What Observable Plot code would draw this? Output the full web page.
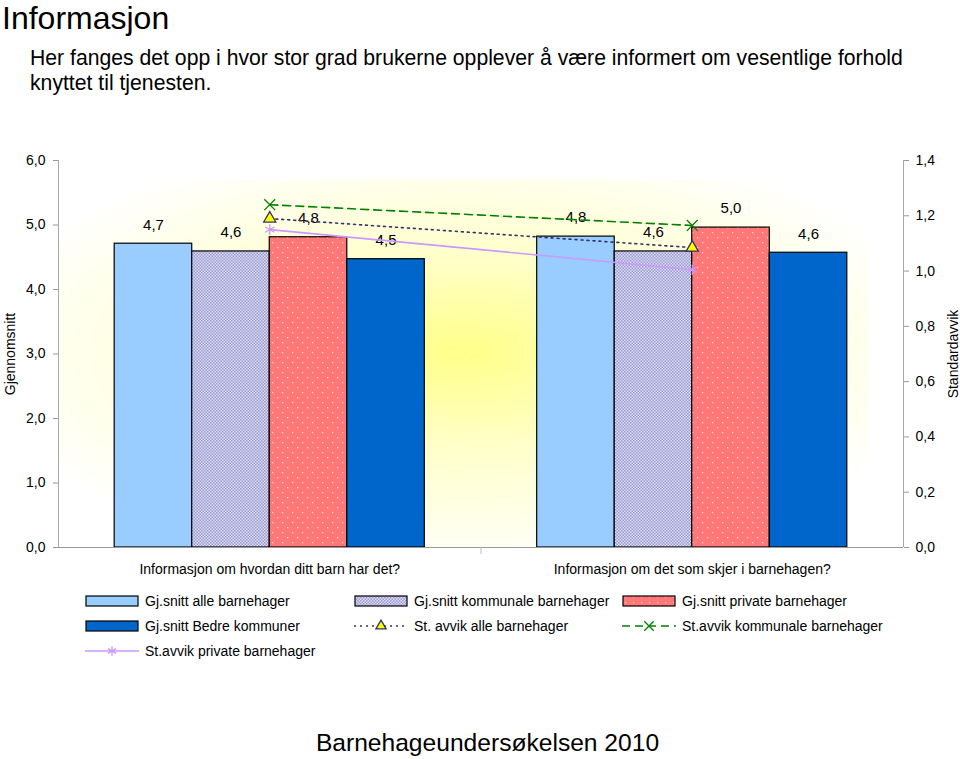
<!DOCTYPE html>
<html>
<head>
<meta charset="utf-8">
<script src="https://cdn.jsdelivr.net/npm/d3@7"></script>
<script src="https://cdn.jsdelivr.net/npm/@observablehq/plot@0.6"></script>
<style>
  body { margin: 0; background: #fff; font-family: "Liberation Sans", Arial, sans-serif; color: #000; }
  #page { position: relative; width: 960px; height: 759px; overflow: hidden; }
  #title { position: absolute; left: 2px; top: 0px; font-size: 32px; line-height: 36px; }
  #subtitle { position: absolute; left: 30px; top: 45px; font-size: 21.2px; line-height: 25px; }
  #chart { position: absolute; left: 0; top: 140px; }
  #legend { position: absolute; left: 0; top: 591px; width: 960px; font-size: 14px; }
  .li { position: absolute; display: flex; align-items: center; height: 20px; white-space: nowrap; }
  .li svg { margin-right: 6px; }
  #footer { position: absolute; left: 0; width: 975px; text-align: center; top: 729px; font-size: 24.6px; }
</style>
</head>
<body>
<div id="page">
  <div id="title">Informasjon</div>
  <div id="subtitle">Her fanges det opp i hvor stor grad brukerne opplever å være informert om vesentlige forhold<br>knyttet til tjenesten.</div>
  <div id="chart"></div>
  <div id="legend"></div>
  <div id="footer">Barnehageundersøkelsen 2010</div>
</div>
<script>
// ---- Data ----
const categories = ["Informasjon om hvordan ditt barn har det?", "Informasjon om det som skjer i barnehagen?"];
const barSeries = ["Gj.snitt alle barnehager", "Gj.snitt kommunale barnehager", "Gj.snitt private barnehager", "Gj.snitt Bedre kommuner"];
const snittAlle = [4.71, 4.82];
const snittKommunale = [4.59, 4.59];
const snittPrivate = [4.81, 4.96];
const snittBedre = [4.47, 4.57];
const lineSeries = ["St. avvik alle barnehager", "St.avvik kommunale barnehager", "St.avvik private barnehager"];
const sdAlle = [1.19, 1.085];
const sdKommunale = [1.24, 1.165];
const sdPrivate = [1.15, 1.005];
const leftTicks = [0, 1, 2, 3, 4, 5, 6];
const rightTicks = [0, 0.2, 0.4, 0.6, 0.8, 1.0, 1.2, 1.4];

// ---- Build tables ----
const barValues = [snittAlle, snittKommunale, snittPrivate, snittBedre];
const bars = [];
barValues.forEach((vals, si) => vals.forEach((v, ci) => bars.push({ci, si, series: barSeries[si], value: v})));
const sdValues = [sdAlle, sdKommunale, sdPrivate];
const sds = [];
sdValues.forEach((vals, si) => vals.forEach((v, ci) => sds.push({ci, si, series: lineSeries[si], sd: v})));

const k = 6 / 1.4; // right axis maps onto left scale
const groupW = 0.734, barW = groupW / 4;
const fmt = d => d.toFixed(1).replace(".", ",");

const barFill = ["#99ccff", "url(#patK)", "url(#patP)", "#0066cc"];
const lineStroke = ["#333366", "#008000", "#cc99ff"];
const lineDash = ["2,4", "8,5", null];
const sym = ["triangle", "times", "asterisk"];
const symFill = ["#ffff00", "none", "none"];

function defs() {
  const svg = d3.create("svg:defs");
  const rg = svg.append("radialGradient").attr("id", "bgGrad").attr("cx", "0.5").attr("cy", "0.47").attr("r", "0.6");
  rg.append("stop").attr("offset", "0%").attr("stop-color", "#ffff88");
  rg.append("stop").attr("offset", "45%").attr("stop-color", "#ffffcc");
  rg.append("stop").attr("offset", "100%").attr("stop-color", "#ffffff");
  const pk = svg.append("pattern").attr("id", "patK").attr("width", 3).attr("height", 3).attr("patternUnits", "userSpaceOnUse");
  pk.append("rect").attr("width", 3).attr("height", 3).attr("fill", "#dcdcf4");
  pk.append("rect").attr("width", 1.5).attr("height", 1.5).attr("fill", "#9a9ad0");
  pk.append("rect").attr("x", 1.5).attr("y", 1.5).attr("width", 1.5).attr("height", 1.5).attr("fill", "#9a9ad0");
  const pp = svg.append("pattern").attr("id", "patP").attr("width", 10).attr("height", 10).attr("patternUnits", "userSpaceOnUse");
  pp.append("rect").attr("width", 10).attr("height", 10).attr("fill", "#ff7878");
  pp.append("rect").attr("x", 2).attr("y", 2).attr("width", 1.3).attr("height", 1.3).attr("fill", "#ffd0d0");
  pp.append("rect").attr("x", 7).attr("y", 7).attr("width", 1.3).attr("height", 1.3).attr("fill", "#ffd0d0");
  return svg.node();
}

const chart = Plot.plot({
  width: 960,
  height: 450,
  marginLeft: 58,
  marginRight: 57,
  marginTop: 20,
  marginBottom: 43,
  style: {fontFamily: "Liberation Sans, Arial, sans-serif", fontSize: "14px", background: "transparent"},
  x: {domain: [-0.5, 1.5], axis: null},
  y: {domain: [0, 6], axis: null},
  marks: [
    defs,
    Plot.rect([0], {x1: -0.5, x2: 1.42, y1: 0, y2: 5.7, fill: "url(#bgGrad)"}),
    Plot.rectY(bars, {
      x1: d => d.ci - groupW / 2 + d.si * barW,
      x2: d => d.ci - groupW / 2 + (d.si + 1) * barW,
      y: "value",
      fill: d => barFill[d.si],
      stroke: "#000",
      strokeWidth: 1.2
    }),
    Plot.text(bars, {
      x: d => d.ci - groupW / 2 + (d.si + 0.5) * barW,
      y: "value",
      text: d => fmt(d.value),
      dy: -19,
      fontSize: 15
    }),
    Plot.ruleY([0], {stroke: "#999"}),
    Plot.ruleX([-0.5], {y1: 0, y2: 6, stroke: "#aaa"}),
    Plot.ruleX([1.5], {y1: 0, y2: 6, stroke: "#aaa"}),
    Plot.axisY({anchor: "left", ticks: leftTicks, tickFormat: fmt, tickSize: 5, tickPadding: 8, stroke: "#999", label: null, fontSize: 14}),
    Plot.axisY({anchor: "right", ticks: rightTicks.map(v => v * k), tickFormat: d => fmt(d / k), tickSize: 5, tickPadding: 7, stroke: "#999", label: null, fontSize: 14}),
    Plot.axisX({ticks: [0.5], tickFormat: () => "", tickSize: 7, stroke: "#bbb", label: null}),
    Plot.axisX({ticks: [0, 1], tickFormat: i => categories[i], tickSize: 0, tickPadding: 17, label: null, fontSize: 14}),
    ...[0, 1, 2].map(si => Plot.line(sds.filter(d => d.si === si), {
      x: "ci", y: d => d.sd * k, stroke: lineStroke[si], strokeWidth: 1.6, strokeDasharray: lineDash[si]
    })),
    ...[0, 1, 2].map(si => Plot.dot(sds.filter(d => d.si === si), {
      x: "ci", y: d => d.sd * k, symbol: sym[si], r: si === 0 ? 4.5 : 5,
      stroke: lineStroke[si], fill: symFill[si], strokeWidth: 1.3
    })),
    Plot.text(["Gjennomsnitt"], {frameAnchor: "left", text: d => d, rotate: -90, dx: -48, textAnchor: "middle", lineAnchor: "middle", fontSize: 14}),
    Plot.text(["Standardavvik"], {frameAnchor: "right", text: d => d, rotate: -90, dx: 50, textAnchor: "middle", lineAnchor: "middle", fontSize: 14})
  ]
});
document.getElementById("chart").appendChild(chart);

// ---- Legend ----
const legendItems = [
  {label: barSeries[0], type: "bar", fill: "#99ccff", col: 0, row: 0},
  {label: barSeries[1], type: "bar", fill: "url(#lpatK)", col: 1, row: 0},
  {label: barSeries[2], type: "bar", fill: "url(#lpatP)", col: 2, row: 0},
  {label: barSeries[3], type: "bar", fill: "#0066cc", col: 0, row: 1},
  {label: lineSeries[0], type: "line", si: 0, col: 1, row: 1},
  {label: lineSeries[1], type: "line", si: 1, col: 2, row: 1},
  {label: lineSeries[2], type: "line", si: 2, col: 0, row: 2}
];
const colX = [85, 354, 622];
const legend = d3.select("#legend");
legendItems.forEach((it, i) => {
  const div = legend.append("div").attr("class", "li").style("left", colX[it.col] + "px").style("top", (it.row * 25) + "px");
  const s = div.append("svg").attr("width", 54).attr("height", 14);
  if (i === 0) {
    const d = s.append("defs");
    const pk = d.append("pattern").attr("id", "lpatK").attr("width", 3).attr("height", 3).attr("patternUnits", "userSpaceOnUse");
    pk.append("rect").attr("width", 3).attr("height", 3).attr("fill", "#dcdcf4");
    pk.append("rect").attr("width", 1.5).attr("height", 1.5).attr("fill", "#9a9ad0");
    pk.append("rect").attr("x", 1.5).attr("y", 1.5).attr("width", 1.5).attr("height", 1.5).attr("fill", "#9a9ad0");
    const pp = d.append("pattern").attr("id", "lpatP").attr("width", 8).attr("height", 6).attr("patternUnits", "userSpaceOnUse");
    pp.append("rect").attr("width", 8).attr("height", 6).attr("fill", "#ff7878");
    pp.append("rect").attr("x", 3).attr("y", 2).attr("width", 1.2).attr("height", 1.2).attr("fill", "#ffd0d0");
  }
  if (it.type === "bar") {
    s.append("rect").attr("x", 1).attr("y", 2).attr("width", 52).attr("height", 10).attr("fill", it.fill).attr("stroke", "#000").attr("stroke-width", 1.2);
  } else {
    s.append("line").attr("x1", 0).attr("x2", 54).attr("y1", 7).attr("y2", 7)
      .attr("stroke", lineStroke[it.si]).attr("stroke-width", 1.6).attr("stroke-dasharray", lineDash[it.si]);
    const sy = d3.symbol().type(it.si === 0 ? d3.symbolTriangle : it.si === 1 ? d3.symbolTimes : d3.symbolAsterisk).size(it.si === 0 ? 45 : 60);
    s.append("path").attr("d", sy()).attr("transform", "translate(27,7)")
      .attr("fill", symFill[it.si]).attr("stroke", lineStroke[it.si]).attr("stroke-width", 1.3);
  }
  div.append("span").text(it.label);
});
</script>
</body>
</html>
